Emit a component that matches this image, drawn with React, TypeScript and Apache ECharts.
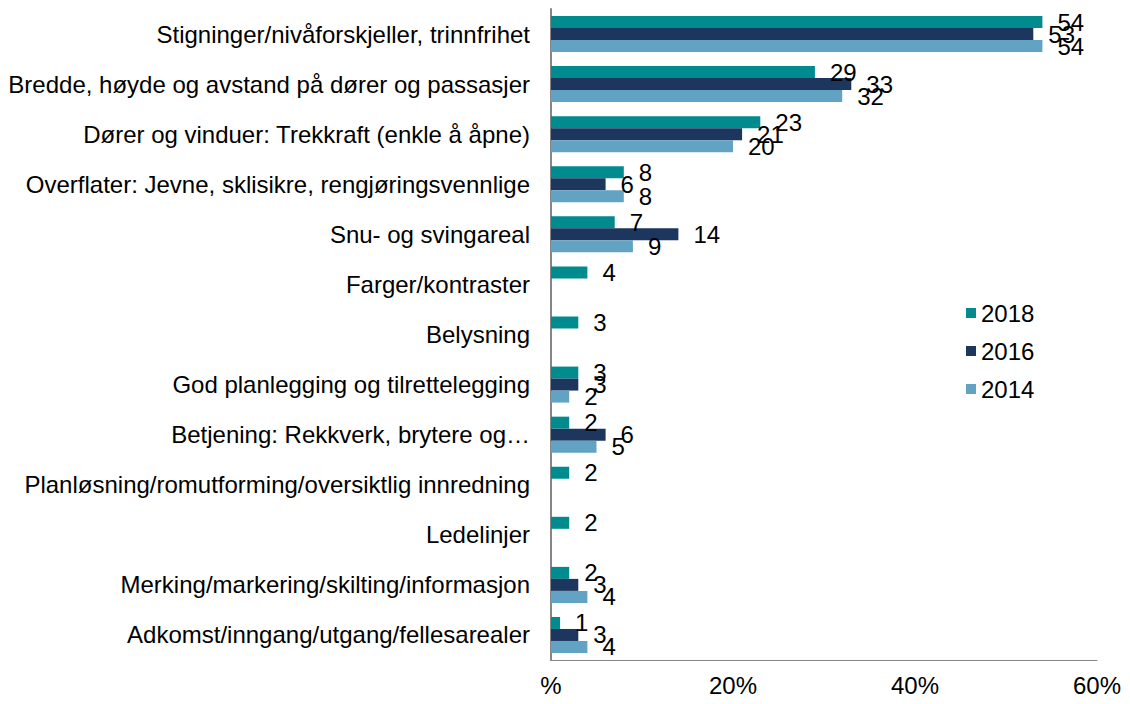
import React, { useEffect, useRef } from "react";
import * as echarts from "echarts";

const categories = [
  "Stigninger/nivåforskjeller, trinnfrihet",
  "Bredde, høyde og avstand på dører og passasjer",
  "Dører og vinduer: Trekkraft (enkle å åpne)",
  "Overflater: Jevne, sklisikre, rengjøringsvennlige",
  "Snu- og svingareal",
  "Farger/kontraster",
  "Belysning",
  "God planlegging og tilrettelegging",
  "Betjening: Rekkverk, brytere og…",
  "Planløsning/romutforming/oversiktlig innredning",
  "Ledelinjer",
  "Merking/markering/skilting/informasjon",
  "Adkomst/inngang/utgang/fellesarealer",
];

const values2018 = [54, 29, 23, 8, 7, 4, 3, 3, 2, 2, 2, 2, 1];
const values2016 = [53, 33, 21, 6, 14, null, null, 3, 6, null, null, 3, 3];
const values2014 = [54, 32, 20, 8, 9, null, null, 2, 5, null, null, 4, 4];

const xTicks = [0, 20, 40, 60];

const FONT = "'Liberation Sans', Arial, sans-serif";
const FS = 24;

export default function App() {
  const ref = useRef<HTMLDivElement>(null);

  useEffect(() => {
    if (!ref.current) return;
    const chart = echarts.init(ref.current, undefined, { renderer: "svg" });
    const label = {
      show: true,
      position: "right",
      distance: 15,
      color: "#000",
      fontSize: FS,
      fontFamily: FONT,
    };
    const mk = (name: string, data: (number | null)[], color: string) => ({
      name,
      type: "bar",
      data: data.map((v) => (v === null ? "-" : v)),
      barWidth: 12,
      barGap: "0%",
      itemStyle: { color },
      label,
    });
    chart.setOption({
      animation: false,
      textStyle: { fontFamily: FONT },
      grid: { left: 551, right: 33, top: 9, bottom: 44, containLabel: false },
      legend: {
        orient: "vertical",
        left: 961,
        top: 296,
        itemWidth: 10,
        itemHeight: 10,
        itemGap: 14,
        icon: "rect",
        textStyle: { fontSize: FS, color: "#000", fontFamily: FONT, lineHeight: 24 },
        data: ["2018", "2016", "2014"],
      },
      xAxis: {
        type: "value",
        min: xTicks[0],
        max: xTicks[xTicks.length - 1],
        interval: 20,
        axisLine: { show: true, lineStyle: { color: "#868686", width: 1 } },
        axisTick: { show: false },
        splitLine: { show: false },
        axisLabel: {
          fontSize: FS,
          color: "#000",
          fontFamily: FONT,
          margin: 13,
          lineHeight: 24,
          formatter: (v: number) => (v === 0 ? "%" : v + "%"),
        },
      },
      yAxis: {
        type: "category",
        inverse: true,
        data: categories,
        axisLine: { show: true, lineStyle: { color: "#868686", width: 2 } },
        axisTick: { show: false },
        axisLabel: {
          fontSize: FS,
          color: "#000",
          fontFamily: FONT,
          margin: 21,
        },
      },
      series: [
        mk("2018", values2018, "#008B8F"),
        mk("2016", values2016, "#1C365E"),
        mk("2014", values2014, "#62A3C3"),
      ],
    });
    return () => chart.dispose();
  }, []);

  return <div ref={ref} style={{ width: 1130, height: 704, margin: -8 }} />;
}
